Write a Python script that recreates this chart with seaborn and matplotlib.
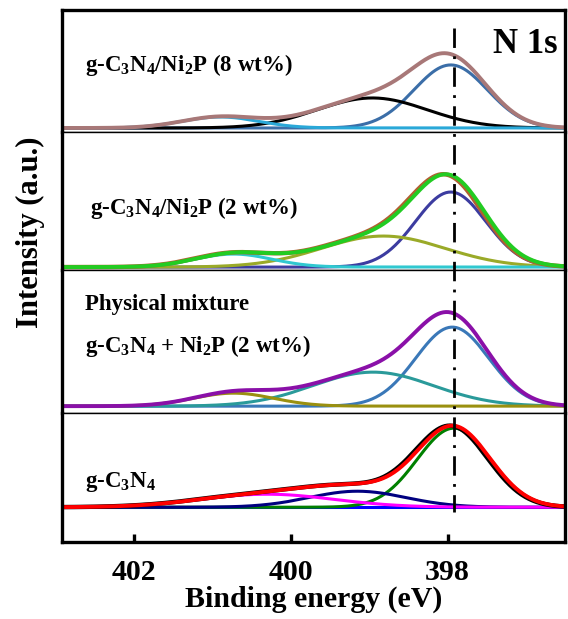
import numpy as np
import pandas as pd
import seaborn as sns
import matplotlib
matplotlib.use('Agg')
import matplotlib.pyplot as plt
from matplotlib.lines import Line2D
from matplotlib.transforms import blended_transform_factory

sns.set_style('white')
plt.rcParams['font.family'] = ['Liberation Serif', 'DejaVu Serif']
plt.rcParams['font.weight'] = 'bold'
plt.rcParams['text.color'] = 'black'
plt.rcParams['axes.labelcolor'] = 'black'
plt.rcParams['xtick.color'] = 'black'
plt.rcParams['mathtext.fontset'] = 'custom'
plt.rcParams['mathtext.rm'] = 'Liberation Serif:bold'
plt.rcParams['mathtext.it'] = 'Liberation Serif:bold'
plt.rcParams['mathtext.bf'] = 'Liberation Serif:bold'

# binding energy grid (eV)
energy = np.linspace(396.4, 403.0, 400)

# fitted components per sample: centre (eV), height (a.u.), FWHM (eV), colour
c8_centers = [397.96, 398.96, 400.90]
c8_heights = [63, 30, 11]
c8_fwhm = [1.10, 1.65, 1.15]
c8_colors = ['#3b6ea8', '#000000', '#2aa8d8']
c8_env = '#a87878'

c2_centers = [397.96, 398.82, 400.73]
c2_heights = [75, 31, 13]
c2_fwhm = [1.06, 1.85, 1.15]
c2_colors = ['#3c3ca0', '#9aaa28', '#30c8d0']
c2_env = '#22cc22'

pm_centers = [397.94, 398.95, 400.73]
pm_heights = [79, 34, 13]
pm_fwhm = [1.10, 1.80, 1.20]
pm_colors = ['#3a78b8', '#2a9a9a', '#9a9010']
pm_env = '#8a10a8'

cn_centers = [397.92, 399.15, 400.30]
cn_heights = [79, 16, 13]
cn_fwhm = [1.10, 1.45, 2.00]
cn_colors = ['#008000', '#000080', '#ff00ff']
cn_env = '#ff0000'

peak_line = 397.92
xticks = [402, 400, 398]

def gauss(x, c, h, w):
    s = w / 2.3548
    return h * np.exp(-0.5 * ((x - c) / s) ** 2)

def draw_panel(ax, centers, heights, fwhm, colors, env_color, raw_color=None, flat=None):
    comps = [gauss(energy, c, h, w) for c, h, w in zip(centers, heights, fwhm)]
    env = np.sum(comps, axis=0)
    if flat is not None:
        sns.lineplot(x=energy, y=np.zeros_like(energy), ax=ax, color=flat, lw=2.2)
    for comp, col in zip(comps, colors):
        sns.lineplot(x=energy, y=comp, ax=ax, color=col, lw=2.2)
    if raw_color is not None:
        sns.lineplot(x=energy + 0.03, y=env, ax=ax, color=raw_color, lw=3.2)
    sns.lineplot(x=energy, y=env, ax=ax, color=env_color, lw=2.8)

fig, axes = plt.subplots(4, 1, figsize=(5.68, 6.19), dpi=100, sharex=True,
                         gridspec_kw={'height_ratios': [122, 138, 143, 129], 'hspace': 0})
fig.subplots_adjust(left=0.109, right=0.995, top=0.984, bottom=0.124)

draw_panel(axes[0], c8_centers, c8_heights, c8_fwhm, c8_colors, c8_env)
draw_panel(axes[1], c2_centers, c2_heights, c2_fwhm, c2_colors, c2_env, raw_color='#b06030')
draw_panel(axes[2], pm_centers, pm_heights, pm_fwhm, pm_colors, pm_env)
draw_panel(axes[3], cn_centers, cn_heights, cn_fwhm, cn_colors, cn_env, raw_color='#000000', flat='#0000ff')

ylims = [(-4, 118), (-3, 135), (-7, 136), (-35, 94)]
for i, ax in enumerate(axes):
    ax.set_ylim(*ylims[i])
    ax.set_yticks([])
    ax.set_ylabel('')
    for side in ['left', 'right', 'top', 'bottom']:
        ax.spines[side].set_visible(True)
        ax.spines[side].set_color('black')
        ax.spines[side].set_linewidth(2.4)
    if i > 0:
        ax.spines['top'].set_linewidth(1.0)
    if i < 3:
        ax.spines['bottom'].set_linewidth(1.0)
        ax.tick_params(axis='x', bottom=False)

ax = axes[3]
ax.set_xlim(402.92, 396.5)
ax.set_xticks(xticks)
ax.set_xticklabels([str(t) for t in xticks])
ax.tick_params(axis='x', bottom=True, direction='in', length=6, width=2.4,
               labelsize=21.5, pad=12)
ax.set_xlabel('Binding energy (eV)', fontsize=21.5, fontweight='bold', labelpad=0)

fig.text(0.053, 0.624, 'Intensity (a.u.)', rotation=90, fontsize=22, fontweight='bold',
         ha='center', va='center')

axes[0].text(0.045, 0.55, r'g-C$_3$N$_4$/Ni$_2$P (8 wt%)', transform=axes[0].transAxes,
             fontsize=16.5, fontweight='bold', va='center')
axes[0].text(0.985, 0.72, 'N 1s', transform=axes[0].transAxes,
             fontsize=25, fontweight='bold', va='center', ha='right')
axes[1].text(0.055, 0.45, r'g-C$_3$N$_4$/Ni$_2$P (2 wt%)', transform=axes[1].transAxes,
             fontsize=16.5, fontweight='bold', va='center')
axes[2].text(0.045, 0.76, 'Physical mixture', transform=axes[2].transAxes,
             fontsize=16.5, fontweight='bold', va='center')
axes[2].text(0.045, 0.47, r'g-C$_3$N$_4$ + Ni$_2$P (2 wt%)', transform=axes[2].transAxes,
             fontsize=16.5, fontweight='bold', va='center')
axes[3].text(0.045, 0.47, r'g-C$_3$N$_4$', transform=axes[3].transAxes,
             fontsize=16.5, fontweight='bold', va='center')

trans = blended_transform_factory(axes[0].transData, fig.transFigure)
fig.add_artist(Line2D([peak_line, peak_line], [1 - 28 / 619, 1 - 512 / 619], transform=trans,
                      color='black', lw=2.0, linestyle=(0, (7, 3, 1, 3)), zorder=10))

fig.savefig('out.png', dpi=100)
